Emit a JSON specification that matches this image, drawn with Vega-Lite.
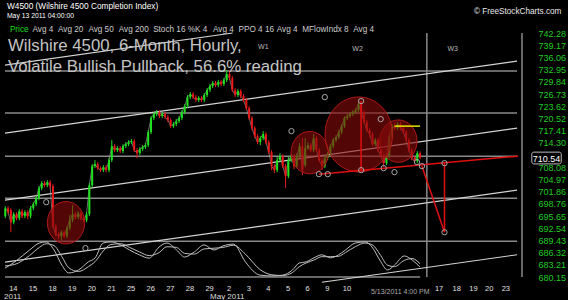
{
"$schema":"https://vega.github.io/schema/vega-lite/v6.json",
"width":527,"height":277,"autosize":"none",
"padding":{"left":0,"top":0,"right":41,"bottom":23},
"background":"#000000",
"config":{"view":{"stroke":null},"text":{"font":"Liberation Sans"}},
"datasets":{
"candles":[
{"t":-0.286,"o":695.63,"h":698.18,"l":695.12,"c":697.67},
{"t":-0.143,"o":697.67,"h":698.18,"l":696.14,"c":696.65},
{"t":0,"o":697.16,"h":697.67,"l":691.55,"c":694.10},
{"t":0.143,"o":694.10,"h":696.65,"l":693.59,"c":696.14},
{"t":0.286,"o":696.14,"h":696.65,"l":694.61,"c":695.12},
{"t":0.429,"o":695.12,"h":697.42,"l":694.61,"c":696.91},
{"t":0.571,"o":696.91,"h":697.42,"l":695.12,"c":695.63},
{"t":0.714,"o":695.63,"h":697.16,"l":695.12,"c":696.65},
{"t":0.857,"o":696.65,"h":697.16,"l":694.87,"c":695.63},
{"t":1,"o":695.63,"h":698.18,"l":695.12,"c":697.67},
{"t":1.143,"o":697.67,"h":699.2,"l":697.16,"c":698.69},
{"t":1.286,"o":698.69,"h":700.73,"l":698.18,"c":700.22},
{"t":1.429,"o":700.22,"h":703.28,"l":699.71,"c":702.77},
{"t":1.571,"o":702.77,"h":704.55,"l":702.26,"c":704.04},
{"t":1.714,"o":704.04,"h":704.55,"l":703.02,"c":703.53},
{"t":1.857,"o":703.53,"h":704.81,"l":703.02,"c":704.30},
{"t":2,"o":704.30,"h":704.81,"l":702.77,"c":703.28},
{"t":2.143,"o":703.28,"h":703.79,"l":692.57,"c":693.08},
{"t":2.286,"o":693.08,"h":693.59,"l":690.53,"c":691.04},
{"t":2.429,"o":691.04,"h":691.55,"l":689.77,"c":690.53},
{"t":2.571,"o":690.53,"h":692.06,"l":689.51,"c":691.55},
{"t":2.714,"o":691.55,"h":692.06,"l":690.02,"c":690.53},
{"t":2.857,"o":690.53,"h":693.08,"l":690.02,"c":692.57},
{"t":3,"o":692.57,"h":695.89,"l":692.06,"c":694.61},
{"t":3.143,"o":694.61,"h":698.44,"l":694.10,"c":696.14},
{"t":3.286,"o":696.14,"h":696.65,"l":694.87,"c":695.38},
{"t":3.429,"o":695.38,"h":696.91,"l":694.87,"c":696.40},
{"t":3.571,"o":696.40,"h":696.91,"l":694.61,"c":695.12},
{"t":3.714,"o":695.12,"h":695.63,"l":694.10,"c":694.61},
{"t":3.857,"o":694.61,"h":696.65,"l":694.10,"c":696.14},
{"t":4,"o":696.14,"h":704.04,"l":695.63,"c":703.53},
{"t":4.143,"o":703.53,"h":708.89,"l":703.02,"c":708.38},
{"t":4.286,"o":708.38,"h":709.91,"l":707.87,"c":708.89},
{"t":4.429,"o":708.89,"h":709.40,"l":707.36,"c":707.87},
{"t":4.571,"o":707.87,"h":708.38,"l":706.85,"c":707.36},
{"t":4.714,"o":707.36,"h":708.63,"l":706.85,"c":708.12},
{"t":4.857,"o":708.12,"h":708.63,"l":706.85,"c":707.36},
{"t":5,"o":707.36,"h":710.42,"l":706.85,"c":709.91},
{"t":5.143,"o":709.91,"h":715.00,"l":709.40,"c":713.47},
{"t":5.286,"o":713.47,"h":713.98,"l":711.95,"c":712.46},
{"t":5.429,"o":712.46,"h":713.47,"l":711.95,"c":712.97},
{"t":5.571,"o":712.97,"h":713.47,"l":711.69,"c":712.20},
{"t":5.714,"o":712.20,"h":713.98,"l":711.69,"c":713.47},
{"t":5.857,"o":713.47,"h":714.49,"l":712.97,"c":713.98},
{"t":6,"o":713.98,"h":715.00,"l":713.47,"c":714.49},
{"t":6.143,"o":714.49,"h":715.26,"l":713.98,"c":714.75},
{"t":6.286,"o":714.75,"h":715.26,"l":711.95,"c":712.46},
{"t":6.429,"o":712.46,"h":712.97,"l":710.42,"c":711.69},
{"t":6.571,"o":711.69,"h":713.22,"l":711.18,"c":712.71},
{"t":6.714,"o":712.71,"h":713.73,"l":712.20,"c":713.22},
{"t":6.857,"o":713.22,"h":714.24,"l":712.71,"c":713.73},
{"t":7,"o":713.73,"h":717.55,"l":713.22,"c":717.04},
{"t":7.143,"o":717.04,"h":721.12,"l":716.53,"c":720.61},
{"t":7.286,"o":720.61,"h":722.14,"l":720.10,"c":721.63},
{"t":7.429,"o":721.63,"h":722.65,"l":721.12,"c":722.14},
{"t":7.571,"o":722.14,"h":722.65,"l":720.61,"c":721.12},
{"t":7.714,"o":721.12,"h":722.14,"l":720.61,"c":721.63},
{"t":7.857,"o":721.63,"h":722.14,"l":720.36,"c":720.87},
{"t":8,"o":720.87,"h":721.38,"l":719.59,"c":720.10},
{"t":8.143,"o":720.10,"h":720.61,"l":718.06,"c":718.57},
{"t":8.286,"o":718.57,"h":719.59,"l":718.06,"c":719.08},
{"t":8.429,"o":719.08,"h":720.36,"l":718.57,"c":719.85},
{"t":8.571,"o":719.85,"h":721.12,"l":719.34,"c":720.61},
{"t":8.714,"o":720.61,"h":722.65,"l":720.10,"c":722.14},
{"t":8.857,"o":722.14,"h":724.18,"l":721.63,"c":723.67},
{"t":9,"o":723.67,"h":726.47,"l":723.16,"c":725.96},
{"t":9.143,"o":725.96,"h":727.24,"l":725.45,"c":726.73},
{"t":9.286,"o":726.73,"h":727.24,"l":725.45,"c":725.96},
{"t":9.429,"o":725.96,"h":726.47,"l":724.69,"c":725.20},
{"t":9.571,"o":725.20,"h":726.22,"l":724.69,"c":725.71},
{"t":9.714,"o":725.71,"h":726.22,"l":724.69,"c":725.20},
{"t":9.857,"o":725.20,"h":726.98,"l":724.69,"c":726.47},
{"t":10,"o":726.47,"h":728.26,"l":725.96,"c":727.75},
{"t":10.143,"o":727.75,"h":729.28,"l":727.24,"c":728.77},
{"t":10.286,"o":728.77,"h":730.04,"l":728.26,"c":729.53},
{"t":10.429,"o":729.53,"h":730.04,"l":728.51,"c":729.02},
{"t":10.571,"o":729.02,"h":730.30,"l":728.51,"c":729.79},
{"t":10.714,"o":729.79,"h":730.30,"l":728.77,"c":729.28},
{"t":10.857,"o":729.28,"h":730.81,"l":728.77,"c":730.30},
{"t":11,"o":730.30,"h":732.85,"l":729.79,"c":731.83},
{"t":11.143,"o":731.83,"h":732.85,"l":730.30,"c":730.81},
{"t":11.286,"o":730.81,"h":731.32,"l":727.24,"c":727.75},
{"t":11.429,"o":727.75,"h":728.26,"l":725.96,"c":726.47},
{"t":11.571,"o":726.47,"h":728.00,"l":725.96,"c":727.49},
{"t":11.714,"o":727.49,"h":728.00,"l":725.71,"c":726.22},
{"t":11.857,"o":726.22,"h":726.73,"l":724.69,"c":725.20},
{"t":12,"o":725.20,"h":725.71,"l":722.65,"c":723.16},
{"t":12.143,"o":723.16,"h":723.67,"l":720.10,"c":720.61},
{"t":12.286,"o":720.61,"h":721.12,"l":717.55,"c":718.06},
{"t":12.429,"o":718.06,"h":718.57,"l":715.51,"c":716.02},
{"t":12.571,"o":716.02,"h":716.53,"l":713.98,"c":714.49},
{"t":12.714,"o":714.49,"h":716.02,"l":713.73,"c":715.51},
{"t":12.857,"o":715.51,"h":717.30,"l":715.00,"c":716.53},
{"t":13,"o":716.53,"h":717.04,"l":713.98,"c":714.49},
{"t":13.143,"o":714.49,"h":715.00,"l":711.44,"c":711.95},
{"t":13.286,"o":711.95,"h":712.46,"l":707.36,"c":708.38},
{"t":13.429,"o":708.38,"h":708.89,"l":706.59,"c":707.36},
{"t":13.571,"o":707.36,"h":710.67,"l":706.85,"c":709.91},
{"t":13.714,"o":709.91,"h":711.69,"l":709.40,"c":710.93},
{"t":13.857,"o":710.93,"h":711.44,"l":707.87,"c":708.38},
{"t":14,"o":708.38,"h":708.89,"l":702.77,"c":705.83},
{"t":14.143,"o":705.83,"h":710.67,"l":705.32,"c":709.91},
{"t":14.286,"o":709.91,"h":711.44,"l":709.40,"c":710.93},
{"t":14.429,"o":710.93,"h":711.44,"l":707.61,"c":708.38},
{"t":14.571,"o":708.38,"h":711.69,"l":707.87,"c":710.93},
{"t":14.714,"o":710.93,"h":714.24,"l":710.42,"c":713.47},
{"t":14.857,"o":713.47,"h":715.51,"l":706.08,"c":707.36},
{"t":15,"o":708.63,"h":715.51,"l":708.12,"c":712.97},
{"t":15.143,"o":712.97,"h":714.49,"l":712.46,"c":713.73},
{"t":15.286,"o":713.73,"h":714.24,"l":711.95,"c":712.46},
{"t":15.429,"o":712.46,"h":716.53,"l":711.95,"c":715.51},
{"t":15.571,"o":715.51,"h":716.02,"l":711.95,"c":712.46},
{"t":15.714,"o":712.46,"h":712.97,"l":709.40,"c":709.91},
{"t":15.857,"o":709.91,"h":710.42,"l":707.36,"c":708.38},
{"t":16,"o":708.38,"h":711.18,"l":707.87,"c":710.42},
{"t":16.143,"o":710.42,"h":711.95,"l":709.91,"c":711.44},
{"t":16.286,"o":711.44,"h":713.98,"l":710.93,"c":713.47},
{"t":16.429,"o":713.47,"h":715.51,"l":712.97,"c":715.00},
{"t":16.571,"o":715.00,"h":716.28,"l":714.49,"c":715.77},
{"t":16.714,"o":715.77,"h":717.55,"l":715.26,"c":717.04},
{"t":16.857,"o":717.04,"h":719.08,"l":716.53,"c":718.57},
{"t":17,"o":718.57,"h":721.12,"l":718.06,"c":720.61},
{"t":17.143,"o":720.61,"h":721.63,"l":720.10,"c":721.12},
{"t":17.286,"o":721.12,"h":722.14,"l":720.61,"c":721.63},
{"t":17.429,"o":721.63,"h":722.65,"l":721.12,"c":722.14},
{"t":17.571,"o":722.14,"h":723.16,"l":721.63,"c":722.65},
{"t":17.714,"o":722.65,"h":724.95,"l":722.14,"c":724.18},
{"t":17.857,"o":724.18,"h":724.69,"l":721.63,"c":722.14},
{"t":18,"o":722.14,"h":722.65,"l":719.08,"c":719.59},
{"t":18.143,"o":719.59,"h":720.10,"l":717.04,"c":717.55},
{"t":18.286,"o":717.55,"h":718.06,"l":715.77,"c":716.53},
{"t":18.429,"o":716.53,"h":717.04,"l":713.47,"c":713.98},
{"t":18.571,"o":713.98,"h":715.51,"l":713.47,"c":715.00},
{"t":18.714,"o":715.00,"h":715.51,"l":711.95,"c":712.46},
{"t":18.857,"o":712.46,"h":712.97,"l":710.42,"c":710.93},
{"t":19,"o":710.93,"h":711.44,"l":708.12,"c":709.14},
{"t":19.143,"o":709.14,"h":711.44,"l":708.63,"c":710.93},
{"t":19.286,"o":710.93,"h":716.53,"l":710.42,"c":716.02},
{"t":19.429,"o":716.02,"h":719.08,"l":715.51,"c":718.57},
{"t":19.571,"o":718.57,"h":719.59,"l":717.55,"c":718.06},
{"t":19.714,"o":718.06,"h":719.59,"l":717.55,"c":719.08},
{"t":19.857,"o":719.08,"h":719.59,"l":717.55,"c":718.06},
{"t":20,"o":718.06,"h":718.57,"l":716.53,"c":717.04},
{"t":20.143,"o":717.04,"h":717.55,"l":714.49,"c":715.00},
{"t":20.286,"o":715.00,"h":715.51,"l":711.95,"c":712.46},
{"t":20.429,"o":712.46,"h":712.97,"l":709.91,"c":710.42},
{"t":20.571,"o":710.42,"h":710.93,"l":709.14,"c":709.65},
{"t":20.714,"o":709.65,"h":712.20,"l":709.14,"c":711.69},
{"t":20.857,"o":711.69,"h":712.20,"l":710.16,"c":710.54}
],
"stoch":[
{"t":-0.3,"k":24,"d":30},{"t":0.2,"k":41,"d":34},{"t":0.95,"k":73,"d":58},{"t":1.45,"k":92,"d":80},
{"t":1.8,"k":95,"d":90},{"t":2.2,"k":73,"d":85},{"t":2.6,"k":32,"d":55},{"t":2.95,"k":11,"d":25},
{"t":3.45,"k":19,"d":15},{"t":3.95,"k":41,"d":28},{"t":4.3,"k":52,"d":42},{"t":4.7,"k":92,"d":70},
{"t":5.1,"k":95,"d":88},{"t":5.6,"k":87,"d":90},{"t":6.05,"k":73,"d":80},{"t":6.55,"k":60,"d":68},
{"t":7.05,"k":51,"d":58},{"t":7.55,"k":81,"d":66},{"t":7.95,"k":92,"d":82},{"t":8.45,"k":73,"d":80},
{"t":8.85,"k":54,"d":64},{"t":9.35,"k":68,"d":62},{"t":9.85,"k":87,"d":76},{"t":10.35,"k":73,"d":78},
{"t":10.8,"k":84,"d":80},{"t":11.35,"k":89,"d":86},{"t":11.95,"k":41,"d":62},{"t":12.7,"k":5,"d":20},
{"t":13.3,"k":3,"d":6},{"t":13.85,"k":5,"d":4},{"t":14.35,"k":19,"d":12},{"t":14.7,"k":38,"d":28},
{"t":15.05,"k":41,"d":38},{"t":15.45,"k":52,"d":46},{"t":15.85,"k":60,"d":55},{"t":16.3,"k":52,"d":55},
{"t":16.7,"k":60,"d":56},{"t":17.05,"k":73,"d":66},{"t":17.55,"k":92,"d":82},{"t":18.05,"k":95,"d":92},
{"t":18.45,"k":78,"d":86},{"t":18.8,"k":46,"d":62},{"t":19.2,"k":19,"d":32},{"t":19.55,"k":32,"d":28},
{"t":20.05,"k":57,"d":45},{"t":20.45,"k":46,"d":50},{"t":20.85,"k":27,"d":36}
],
"seg":[
{"kind":"h","t":-0.3,"p":732.59,"t2":25.8,"p2":732.59},
{"kind":"h","t":-0.3,"p":721.89,"t2":25.8,"p2":721.89},
{"kind":"h","t":-0.3,"p":710.93,"t2":25.8,"p2":710.93},
{"kind":"h","t":-0.3,"p":700.22,"t2":25.8,"p2":700.22},
{"kind":"h","t":-0.3,"p":689.26,"t2":25.8,"p2":689.26},
{"kind":"h","t":-0.3,"p":680.15,"t2":20.86,"p2":680.15},
{"kind":"v","t":21.2,"p":742.28,"t2":21.2,"p2":680.15},
{"kind":"v","t":26.05,"p":742.28,"t2":26.05,"p2":680.15},
{"kind":"c","t":-0.3,"p":734.12,"t2":11.3,"p2":742.28},
{"kind":"c","t":-0.3,"p":716.79,"t2":25.8,"p2":735.14},
{"kind":"c","t":-0.3,"p":699.71,"t2":25.8,"p2":718.06},
{"kind":"c","t":-0.3,"p":683.93,"t2":25.8,"p2":702.26},
{"kind":"c","t":15.85,"p":678.81,"t2":25.8,"p2":685.82},
{"kind":"r","t":15.7,"p":706.34,"t2":25.85,"p2":710.93},
{"kind":"r","t":17.85,"p":724.95,"t2":17.85,"p2":707.36},
{"kind":"r","t":20.95,"p":708.38,"t2":22.1,"p2":691.55},
{"kind":"r","t":22.1,"p":691.55,"t2":22.1,"p2":709.14},
{"kind":"y","t":19.55,"p":718.57,"t2":20.85,"p2":718.57}
],
"circ":[
{"kind":"s","t":2.81,"p":693.97},
{"kind":"s","t":15.23,"p":711.82},
{"kind":"s","t":19.75,"p":714.75},
{"kind":"b","t":17.73,"p":716.45}
],
"dots":[
{"t":1.8,"p":699.2},{"t":3.8,"p":687.5},{"t":14.3,"p":717.3},{"t":16.0,"p":725.96},
{"t":17.85,"p":724.95},{"t":18.85,"p":720.36},{"t":15.7,"p":706.34},{"t":16.15,"p":706.34},
{"t":17.85,"p":707.36},{"t":19.0,"p":707.87},{"t":19.55,"p":706.85},{"t":20.7,"p":709.4},
{"t":20.95,"p":708.38},{"t":22.1,"p":709.14},{"t":22.1,"p":691.55}
],
"texts":[
{"t":-0.2,"p":748.32,"txt":"W4500 (Wilshire 4500 Completion Index)","kind":"h1"},
{"t":-0.2,"p":746.03,"txt":"May 13 2011 04:00:00","kind":"h2"},
{"t":-0.05,"p":742.53,"txt":"Price","kind":"lp"},
{"t":1.1,"p":742.53,"txt":"Avg 4","kind":"lg"},
{"t":2.4,"p":742.53,"txt":"Avg 20","kind":"lg"},
{"t":3.95,"p":742.53,"txt":"Avg 50","kind":"lg"},
{"t":5.5,"p":742.53,"txt":"Avg 200","kind":"lg"},
{"t":7.25,"p":742.53,"txt":"Stoch 16 %K 4","kind":"lg"},
{"t":10.3,"p":742.53,"txt":"Avg 4","kind":"lg"},
{"t":11.6,"p":742.53,"txt":"PPO 4 16","kind":"lg"},
{"t":13.55,"p":742.53,"txt":"Avg 4","kind":"lg"},
{"t":14.85,"p":742.53,"txt":"MFlowIndx 8","kind":"lg"},
{"t":17.45,"p":742.53,"txt":"Avg 4","kind":"lg"},
{"t":-0.15,"p":737.69,"txt":"Wilshire 4500, 6-Month, Hourly,","kind":"big"},
{"t":-0.15,"p":732.34,"txt":"Volatile Bullish Pullback, 56.6% reading","kind":"big"},
{"t":12.6,"p":738.33,"txt":"W1","kind":"w"},
{"t":17.4,"p":737.77,"txt":"W2","kind":"w"},
{"t":22.25,"p":737.77,"txt":"W3","kind":"w"},
{"t":23.6,"p":747.12,"txt":"© FreeStockCharts.com","kind":"cp"},
{"t":-0.35,"p":674.47,"txt":"2011","kind":"xs"},
{"t":10.15,"p":674.47,"txt":"May 2011","kind":"xs"},
{"t":18.35,"p":675.75,"txt":"5/13/2011 4:00 PM","kind":"dt"}
],
"box":[{"t":26.55,"t2":28.05,"p":711.95,"p2":708.95,"txt":"710.54","tc":27.3,"pc":709.35}]
},
"encoding":{"x":{"field":"t","type":"quantitative","scale":{"domain":[-0.3,26.05],"nice":false,"zero":false},
"axis":{"values":[0.1,1.1,2.1,3.1,4.1,5.1,6.1,7.1,8.1,9.1,10.1,11.1,12.1,13.1,14.1,15.1,16.1,17.1,21.8,22.7,23.55,24.35,25.2],
"labelExpr":"['14','15','18','19','20','21','25','26','27','28','29','2','3','4','5','6','9','10','17','18','19','20','23'][indexof([0.1,1.1,2.1,3.1,4.1,5.1,6.1,7.1,8.1,9.1,10.1,11.1,12.1,13.1,14.1,15.1,16.1,17.1,21.8,22.7,23.55,24.35,25.2], datum.value)]",
"labelColor":"#e0e0e0","labelFont":"Liberation Sans","labelFontSize":7.5,"labelBaseline":"alphabetic","labelPadding":13,
"ticks":false,"tickSize":0,"domain":false,"grid":false,"title":null,"labelOverlap":false,"labelFlush":false,"labelBound":false}}},
"layer":[
{"data":{"name":"seg"},"transform":[{"filter":"datum.kind=='h' || datum.kind=='v'"}],
"mark":{"type":"rule","color":"#8a8a8a","strokeWidth":1.5},
"encoding":{"x2":{"field":"t2"},"y":{"field":"p","type":"quantitative","scale":{"domain":[680.15,750.69],"nice":false,"zero":false},"axis":null},"y2":{"field":"p2"}}},
{"data":{"name":"seg"},"transform":[{"filter":"datum.kind=='c'"}],
"mark":{"type":"rule","color":"#d4d4d4","strokeWidth":1.2},
"encoding":{"x2":{"field":"t2"},"y":{"field":"p","type":"quantitative","scale":{"domain":[680.15,750.69],"nice":false,"zero":false},"axis":null},"y2":{"field":"p2"}}},
{"data":{"name":"stoch"},"transform":[{"fold":["k","d"],"as":["s","v"]}],
"mark":{"type":"line","color":"#bdbdbd","strokeWidth":1,"interpolate":"monotone"},
"encoding":{"y":{"field":"v","type":"quantitative","scale":{"domain":[0,750],"nice":false,"zero":false},"axis":null},"detail":{"field":"s"}}},
{"data":{"name":"candles"},
"mark":{"type":"line","color":"#a0a0a0","strokeWidth":0.8,"opacity":0.85},
"encoding":{"y":{"field":"c","type":"quantitative","scale":{"domain":[680.15,750.69],"nice":false,"zero":false},"axis":null}}},
{"data":{"name":"candles"},
"mark":{"type":"rule","strokeWidth":1},
"encoding":{"y":{"field":"l","type":"quantitative","scale":{"domain":[680.15,750.69],"nice":false,"zero":false},"axis":null},"y2":{"field":"h"},
"color":{"condition":{"test":"datum.c >= datum.o","value":"#1ee01e"},"value":"#e61a1a"}}},
{"data":{"name":"candles"},
"mark":{"type":"bar","size":2},
"encoding":{"y":{"field":"o","type":"quantitative","scale":{"domain":[680.15,750.69],"nice":false,"zero":false},
"axis":{"orient":"right","values":[742.28,739.17,736.06,732.95,729.84,726.73,723.62,720.52,717.41,714.30,708.08,704.97,701.86,698.76,695.65,692.54,689.43,686.32,683.21,680.15],
"format":".2f","labelColor":"#22cc22","labelFont":"Liberation Sans","labelFontSize":9,"labelPadding":11,"ticks":false,"tickSize":0,"domain":false,"grid":false,"title":null,"labelBaseline":"middle","labelOverlap":false,"labelFlush":false}},
"y2":{"field":"c"},
"color":{"condition":{"test":"datum.c >= datum.o","value":"#1ee01e"},"value":"#e61a1a"}}},
{"data":{"name":"circ"},"transform":[{"filter":"datum.kind=='s'"}],
"mark":{"type":"point","shape":"M0,-1A0.88,1,0,1,1,0,1A0.88,1,0,1,1,0,-1Z","size":1800,"filled":true,"fill":"#8b0a0a","fillOpacity":0.6,"stroke":"#b01818","strokeWidth":1,"opacity":1},
"encoding":{"y":{"field":"p","type":"quantitative","scale":{"domain":[680.15,750.69],"nice":false,"zero":false},"axis":null}}},
{"data":{"name":"circ"},"transform":[{"filter":"datum.kind=='b'"}],
"mark":{"type":"point","shape":"M0,-1A0.9,1,0,1,1,0,1A0.9,1,0,1,1,0,-1Z","size":5625,"filled":true,"fill":"#8b0a0a","fillOpacity":0.6,"stroke":"#b01818","strokeWidth":1,"opacity":1},
"encoding":{"y":{"field":"p","type":"quantitative","scale":{"domain":[680.15,750.69],"nice":false,"zero":false},"axis":null}}},
{"data":{"name":"seg"},"transform":[{"filter":"datum.kind=='r' || datum.kind=='y'"}],
"mark":{"type":"rule","strokeWidth":1.5},
"encoding":{"x2":{"field":"t2"},"y":{"field":"p","type":"quantitative","scale":{"domain":[680.15,750.69],"nice":false,"zero":false},"axis":null},"y2":{"field":"p2"},
"color":{"condition":{"test":"datum.kind=='y'","value":"#e6e600"},"value":"#e01010"}}},
{"data":{"name":"dots"},
"mark":{"type":"point","shape":"circle","size":28,"filled":false,"stroke":"#a8a8a8","strokeWidth":1,"opacity":1},
"encoding":{"y":{"field":"p","type":"quantitative","scale":{"domain":[680.15,750.69],"nice":false,"zero":false},"axis":null}}},
{"data":{"name":"texts"},
"mark":{"type":"text","align":"left","baseline":"alphabetic","font":"Liberation Sans"},
"encoding":{"y":{"field":"p","type":"quantitative","scale":{"domain":[680.15,750.69],"nice":false,"zero":false},"axis":null},
"text":{"field":"txt"},
"size":{"field":"kind","type":"nominal","scale":{"type":"ordinal","domain":["h1","h2","lp","lg","big","w","cp","xs","dt"],"range":[8.3,6.8,8.2,8.2,16.8,7,8.2,8,7]},"legend":null},
"color":{"field":"kind","type":"nominal","scale":{"domain":["h1","h2","lp","lg","big","w","cp","xs","dt"],"range":["#ffffff","#ffffff","#22dd22","#cccccc","#c4c4c4","#bbbbbb","#e8e8e8","#dddddd","#aaaaaa"]},"legend":null}}},
{"data":{"name":"box"},
"mark":{"type":"rect","fill":"#000000","stroke":"#bbbbbb","strokeWidth":1,"cornerRadius":2},
"encoding":{"x2":{"field":"t2"},"y":{"field":"p","type":"quantitative","scale":{"domain":[680.15,750.69],"nice":false,"zero":false},"axis":null},"y2":{"field":"p2"}}},
{"data":{"name":"box"},
"mark":{"type":"text","align":"center","baseline":"alphabetic","font":"Liberation Sans","fontSize":9,"color":"#ffffff"},
"encoding":{"x":{"field":"tc","type":"quantitative"},"y":{"field":"pc","type":"quantitative","scale":{"domain":[680.15,750.69],"nice":false,"zero":false},"axis":null},"text":{"field":"txt"}}}
],
"resolve":{"scale":{"y":"independent","color":"independent","size":"independent"}}
}
